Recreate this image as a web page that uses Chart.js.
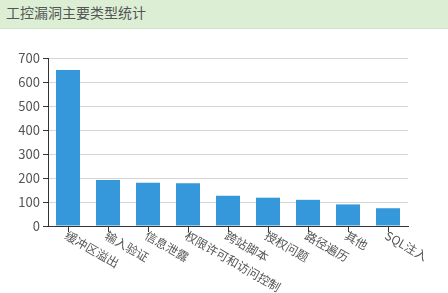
<!DOCTYPE html>
<html>
<head>
<meta charset="utf-8">
<script src="https://cdn.jsdelivr.net/npm/chart.js@4/dist/chart.umd.min.js"></script>
<style>
  body { margin: 0; background: #fff; width: 448px; height: 293px; overflow: hidden; }
  #header {
    height: 28px; background: #dcefd5; border-bottom: 1px solid #cfe3c7;
    font: 14px "Noto Sans CJK SC", sans-serif; color: #555;
    line-height: 24px; padding-left: 6px; box-sizing: content-box;
  }
  #wrap { position: relative; width: 448px; height: 264px; }
</style>
</head>
<body>
<div id="header">工控漏洞主要类型统计</div>
<div id="wrap"><canvas id="chart"></canvas></div>
<script>
// 数据
const categories = ["缓冲区溢出", "输入验证", "信息泄露", "权限许可和访问控制", "跨站脚本", "授权问题", "路径遍历", "其他", "SQL注入"];
const counts = [650, 192, 180, 178, 126, 118, 109, 90, 74];
const yTicks = [0, 100, 200, 300, 400, 500, 600, 700];

const fontFamily = '"Noto Sans CJK SC", sans-serif';

// 斜着往右下画的横轴文字
const slantLabels = {
  id: "slantLabels",
  afterDraw(chart) {
    const xs = chart.scales.x;
    const ctx = chart.ctx;
    ctx.save();
    ctx.font = "12px " + fontFamily;
    ctx.fillStyle = "#555";
    ctx.textAlign = "left";
    ctx.textBaseline = "top";
    categories.forEach((label, i) => {
      const x = xs.getPixelForTick(i);
      ctx.save();
      ctx.translate(x + 1, xs.top + 3);
      ctx.rotate(Math.PI / 6);
      ctx.fillText(label, 0, 0);
      ctx.restore();
    });
    ctx.restore();
  }
};

new Chart(document.getElementById("chart"), {
  type: "bar",
  data: {
    labels: categories,
    datasets: [{
      data: counts,
      backgroundColor: "#3498db",
      barPercentage: 0.6,
      categoryPercentage: 1
    }]
  },
  options: {
    responsive: true,
    maintainAspectRatio: false,
    animation: false,
    layout: { padding: { top: 29, right: 40, left: 0, bottom: 0 } },
    plugins: { legend: { display: false }, tooltip: { enabled: false } },
    scales: {
      x: {
        grid: { offset: false, drawOnChartArea: false, tickLength: 6, tickColor: "#333" },
        border: { color: "#333" },
        ticks: { display: false },
        afterFit: (s) => { s.height = 67; }
      },
      y: {
        min: 0,
        max: 700,
        afterBuildTicks: (s) => { s.ticks = yTicks.map((v) => ({ value: v })); },
        grid: { color: "#d6d6d6", tickLength: 5, tickColor: "#333" },
        border: { color: "#333" },
        ticks: { padding: 3, color: "#555", font: { size: 13, family: fontFamily } },
        afterFit: (s) => { s.width = 48; }
      }
    }
  },
  plugins: [slantLabels]
});
</script>
</body>
</html>
